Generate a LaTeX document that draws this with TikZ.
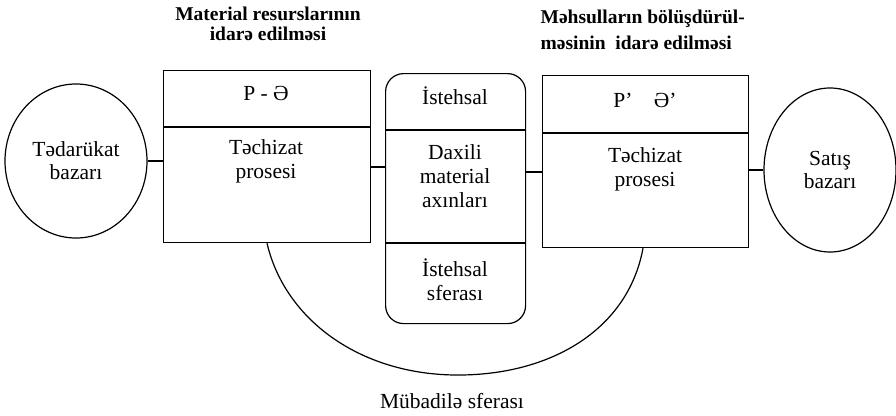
\documentclass[tikz,border=0pt]{standalone}
\usepackage{fontspec}
\setmainfont{Liberation Serif}
\usetikzlibrary{shapes.geometric,calc}
\begin{document}
\begin{tikzpicture}[x=1pt,y=-1pt,
  line width=1.2pt,
  market/.style={draw,ellipse,inner sep=0pt,align=center,font=\fontsize{21.5}{23}\selectfont},
  blk/.style={draw,rectangle,inner sep=0pt,anchor=north west},
  lbl/.style={align=center,font=\fontsize{21.5}{24}\selectfont,inner sep=0pt},
  ttl/.style={font=\bfseries\fontsize{19.5}{20}\selectfont,inner sep=0pt}]
\useasboundingbox (0,0) rectangle (896,415);

% headings
\node[ttl,align=center] (t1) at (268,24) {Material resurslarının\\idarə edilməsi};
\node[ttl,align=left,anchor=west,font=\bfseries\fontsize{19.5}{26}\selectfont] (t2) at (540,30) {Məhsulların bölüşdürül-\\məsinin\ \ idarə edilməsi};

% markets
\node[market,minimum width=142pt,minimum height=154pt] (lm) at (76,161) {Tədarükat\\bazarı};
\node[market,minimum width=132pt,minimum height=164pt] (rm) at (830,170) {Satış\\bazarı};

% left block
\node[blk,minimum width=207pt,minimum height=172pt] (lb) at (163,70) {};
\draw (lb.west |- 0,127) -- (lb.east |- 0,127);
\node[lbl] (lb1) at (266,93) {P - Ə};
\node[lbl] (lb2) at (266,161) {Təchizat\\prosesi};

% production block
\node[blk,rounded corners=18pt,minimum width=140pt,minimum height=250pt] (mb) at (385,73) {};
\draw (mb.west |- 0,130) -- (mb.east |- 0,130);
\draw (mb.west |- 0,243) -- (mb.east |- 0,243);
\node[lbl] (mb1) at (455,96) {İstehsal};
\node[lbl] (mb2) at (455,176) {Daxili\\material\\axınları};
\node[lbl] (mb3) at (455,280) {İstehsal\\sferası};

% right block
\node[blk,minimum width=206pt,minimum height=172pt] (rb) at (542,75) {};
\draw (rb.west |- 0,133) -- (rb.east |- 0,133);
\node[lbl] (rb1) at (645,100) {P'\quad Ə'};
\node[lbl] (rb2) at (645,169) {Təchizat\\prosesi};

% links
\draw (lm.east) -- (lm.east -| lb.west);
\draw (lb.east |- 0,167) -- (mb.west |- 0,167);
\draw (mb.east |- 0,172) -- (rb.west |- 0,172);
\draw (rb.east |- rm.west) -- (rm.west);

% exchange sphere
\draw (lb.south -| 267,0) .. controls (285,320) and (360,374) .. (455,375)
      .. controls (550,376) and (628,330) .. (rb.south -| 643,0);
\node[lbl] (ex) at (452,401) {Mübadilə sferası};
\end{tikzpicture}
\end{document}
